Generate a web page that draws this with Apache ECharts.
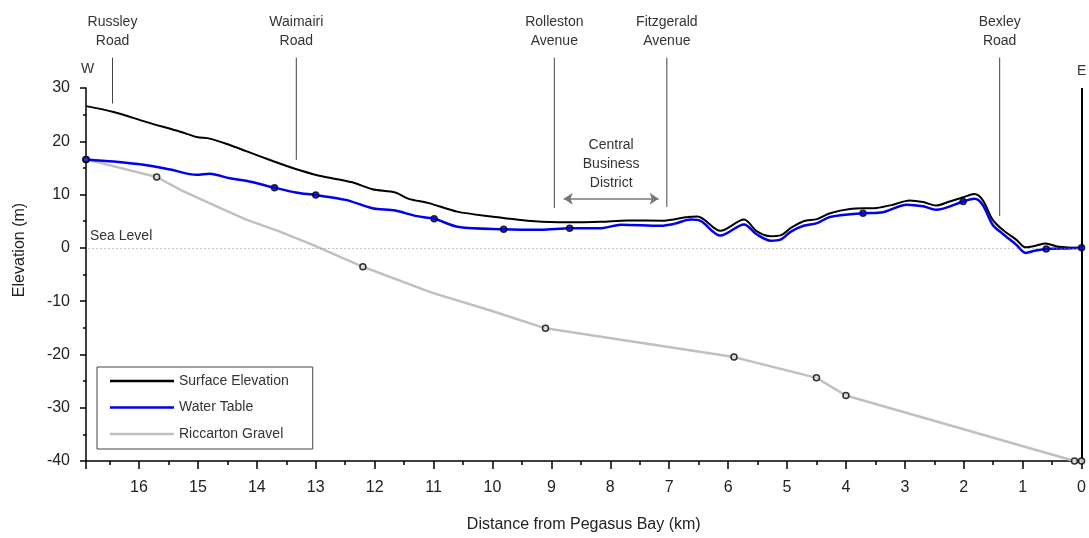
<!DOCTYPE html>
<html>
<head>
<meta charset="utf-8">
<script src="https://cdn.jsdelivr.net/npm/echarts@6/dist/echarts.min.js"></script>
<style>
  html, body { margin: 0; padding: 0; background: #fff; }
  #chart { width: 1089px; height: 538px; }
</style>
</head>
<body>
<div id="chart"></div>
<script>
// W-E cross section, distance from Pegasus Bay (km) vs elevation (m)
var surfaceKm = [16.9, 16.43, 15.87, 15.3, 15.02, 14.8, 14.46, 14.18, 13.73, 13.34, 12.94, 12.38, 12.04, 11.65, 11.42, 11.08, 10.6, 10.02, 9.28, 8.72, 8.16, 7.71, 7.09, 6.69, 6.52, 6.13, 5.73, 5.51, 5.28, 5.11, 4.94, 4.72, 4.49, 4.27, 3.93, 3.48, 3.2, 2.92, 2.69, 2.47, 2.24, 2.01, 1.82, 1.68, 1.51, 1.34, 1.11, 0.95, 0.78, 0.61, 0.39, 0];
var surfaceElev = [26.6, 25.5, 23.6, 21.8, 20.8, 20.5, 19.3, 18.15, 16.3, 14.8, 13.55, 12.3, 11.0, 10.4, 9.2, 8.4, 6.8, 5.9, 5.0, 4.8, 4.9, 5.15, 5.1, 5.8, 5.9, 3.2, 5.3, 3.1, 2.2, 2.35, 3.7, 5.0, 5.4, 6.5, 7.3, 7.5, 8.1, 8.9, 8.6, 7.95, 8.7, 9.5, 10.1, 9.0, 5.3, 3.4, 1.55, 0.1, 0.4, 0.8, 0.2, 0];

var waterKm = [16.9, 16.43, 15.87, 15.47, 15.02, 14.8, 14.46, 14.18, 13.7, 13.34, 13.0, 12.49, 12.04, 11.65, 11.31, 10.99, 10.57, 9.81, 9.17, 8.69, 8.15, 7.82, 7.14, 6.92, 6.63, 6.46, 6.13, 5.73, 5.51, 5.28, 5.11, 4.94, 4.72, 4.49, 4.27, 3.71, 3.37, 2.97, 2.69, 2.47, 2.01, 1.82, 1.68, 1.51, 1.34, 1.11, 0.95, 0.78, 0.61, 0.22, 0];
var waterElev = [16.6, 16.2, 15.5, 14.7, 13.7, 13.9, 13.05, 12.6, 11.3, 10.4, 9.9, 9.0, 7.45, 7.0, 6.0, 5.45, 3.9, 3.5, 3.4, 3.7, 3.7, 4.35, 4.15, 4.5, 5.3, 5.0, 2.3, 4.4, 2.5, 1.35, 1.55, 3.0, 4.15, 4.65, 5.8, 6.5, 6.7, 8.1, 7.8, 7.15, 8.7, 9.2, 8.1, 4.35, 2.65, 0.6, -0.95, -0.5, -0.2, -0.1, 0];

var gravelKm = [16.9, 15.7, 15.3, 14.75, 14.18, 13.62, 13.06, 12.5, 12.2, 11.03, 10.02, 9.1, 5.9, 4.5, 4.0, 0.12, 0];
var gravelElev = [16.6, 13.3, 10.9, 8.1, 5.3, 3.1, 0.6, -2.1, -3.55, -8.4, -11.8, -15.1, -20.5, -24.4, -27.7, -40, -40];

// bore points marked with small circles
var waterBoreKm = [16.9, 13.7, 13.0, 10.99, 9.81, 8.69, 3.71, 2.01, 0.6, 0];
var waterBoreElev = [16.6, 11.3, 9.9, 5.45, 3.5, 3.7, 6.5, 8.7, -0.2, 0];
var gravelBoreKm = [16.9, 15.7, 12.2, 9.1, 5.9, 4.5, 4.0, 0.12, 0];
var gravelBoreElev = [16.6, 13.3, -3.55, -15.1, -20.5, -24.4, -27.7, -40, -40];

// roads crossing the section (line drawn from roadTop down to roadBottom)
var roadNames = ['Russley\nRoad', 'Waimairi\nRoad', 'Rolleston\nAvenue', 'Fitzgerald\nAvenue', 'Bexley\nRoad'];
var roadKm = [16.45, 13.33, 8.95, 7.04, 1.39];
var roadTop = [35.7, 35.7, 35.7, 35.7, 35.7];
var roadBottom = [27.1, 16.5, 7.5, 7.7, 6.0];

var cbdFromKm = 8.79, cbdToKm = 7.18, cbdElev = 9.2;
var seriesNames = ['Surface Elevation', 'Water Table', 'Riccarton Gravel'];

function pairs(xs, ys) {
  var out = [];
  for (var i = 0; i < xs.length; i++) out.push([xs[i], ys[i]]);
  return out;
}

var font = 'Liberation Sans';
var roadData = [];
for (var i = 0; i < roadNames.length; i++) {
  roadData.push([roadKm[i], roadTop[i], roadBottom[i], i]);
}

var chart = echarts.init(document.getElementById('chart'));
var option = {
  animation: false,
  grid: { left: 86, right: 3, top: 88, bottom: 75 },
  legend: {
    data: seriesNames,
    orient: 'vertical',
    left: 97,
    top: 367,
    padding: [6, 24, 7, 13],
    itemGap: 10.5,
    itemWidth: 64,
    itemHeight: 2.5,
    icon: 'rect',
    borderColor: '#444',
    borderWidth: 1,
    backgroundColor: '#fff',
    textStyle: { fontFamily: font, fontSize: 14, lineHeight: 16, color: '#333' }
  },
  xAxis: {
    type: 'value',
    inverse: true,
    min: 0,
    max: 16.9,
    interval: 1,
    name: 'Distance from Pegasus Bay (km)',
    nameLocation: 'middle',
    nameGap: 56,
    nameTextStyle: { fontFamily: font, fontSize: 16, color: '#222' },
    axisLine: { onZero: false, lineStyle: { color: '#000', width: 1.5 } },
    axisTick: { length: 8, lineStyle: { color: '#000', width: 1.5 } },
    minorTick: { show: true, splitNumber: 2, length: 4, lineStyle: { color: '#000', width: 1.5 } },
    axisLabel: {
      margin: 19, fontFamily: font, fontSize: 16, color: '#222',
      formatter: function (v) { return Number.isInteger(v) ? String(v) : ''; }
    },
    splitLine: { show: false }
  },
  yAxis: {
    type: 'value',
    min: -40,
    max: 30,
    interval: 10,
    name: 'Elevation (m)',
    nameLocation: 'middle',
    nameGap: 58,
    nameTextStyle: { fontFamily: font, fontSize: 16, color: '#222', padding: [0, 0, 0, 49] },
    axisLine: { show: true, onZero: false, lineStyle: { color: '#000', width: 1.5 } },
    axisTick: { length: 6, lineStyle: { color: '#000', width: 1.5 } },
    minorTick: { show: true, splitNumber: 2, length: 3, lineStyle: { color: '#000', width: 1.5 } },
    axisLabel: { margin: 16, fontFamily: font, fontSize: 16, color: '#222' },
    splitLine: { show: false }
  },
  graphic: [
    { type: 'text', left: 81, top: 62, style: { text: 'W', font: '14px ' + font, fill: '#333' } },
    { type: 'text', left: 90, top: 229, style: { text: 'Sea Level', font: '14px ' + font, fill: '#333' } }
  ],
  series: [
    {
      name: seriesNames[2],
      type: 'line',
      symbol: 'none',
      data: pairs(gravelKm, gravelElev),
      lineStyle: { color: '#c0c0c0', width: 2.5 },
      itemStyle: { color: '#c0c0c0' },
      z: 2
    },
    {
      name: seriesNames[0],
      type: 'line',
      symbol: 'none',
      smooth: 0.3,
      data: pairs(surfaceKm, surfaceElev),
      lineStyle: { color: '#000', width: 2 },
      itemStyle: { color: '#000' },
      z: 3,
      markLine: {
        silent: true,
        symbol: 'none',
        symbolSize: 9,
        animation: false,
        label: {
          show: true, position: 'start', formatter: '{b}', distance: 7,
          fontFamily: font, fontSize: 14, lineHeight: 19, color: '#333'
        },
        data: [
          [
            { name: 'E', coord: [0, 30], lineStyle: { color: '#000', width: 2, type: 'solid' } },
            { coord: [0, -40] }
          ],
          [
            { name: 'Central\nBusiness\nDistrict', coord: [cbdFromKm, cbdElev], symbol: 'arrow',
              lineStyle: { color: '#777', width: 1.5, type: 'solid' },
              label: { position: 'middle', distance: 6 } },
            { coord: [cbdToKm, cbdElev], symbol: 'arrow' }
          ]
        ]
      }
    },
    {
      name: seriesNames[1],
      type: 'line',
      symbol: 'none',
      smooth: 0.3,
      data: pairs(waterKm, waterElev),
      lineStyle: { color: '#0000f0', width: 2.5 },
      itemStyle: { color: '#0000f0' },
      z: 3,
      markLine: {
        silent: true,
        symbol: 'none',
        animation: false,
        label: { show: false },
        lineStyle: { color: '#888', width: 1, type: [1, 3] },
        data: [{ yAxis: 0 }]
      }
    },
    {
      name: 'gravel bores',
      type: 'scatter',
      symbol: 'circle',
      symbolSize: 6,
      data: pairs(gravelBoreKm, gravelBoreElev),
      itemStyle: { color: '#ddd', borderColor: '#000', borderWidth: 1.5 },
      z: 5
    },
    {
      name: 'water bores',
      type: 'scatter',
      symbol: 'circle',
      symbolSize: 6,
      data: pairs(waterBoreKm, waterBoreElev),
      itemStyle: { color: '#0000f0', borderColor: '#000', borderWidth: 1.5 },
      z: 5
    },
    {
      name: 'roads',
      type: 'custom',
      clip: false,
      silent: true,
      data: roadData,
      renderItem: function (params, api) {
        var km = api.value(0);
        var top = api.coord([km, api.value(1)]);
        var bottom = api.coord([km, api.value(2)]);
        return {
          type: 'group',
          children: [
            {
              type: 'line',
              shape: { x1: top[0], y1: top[1], x2: bottom[0], y2: bottom[1] },
              style: { stroke: '#444', lineWidth: 1 }
            },
            {
              type: 'text',
              x: top[0],
              y: top[1] - 7,
              style: {
                text: roadNames[api.value(3)],
                align: 'center',
                verticalAlign: 'bottom',
                font: '14px ' + font,
                lineHeight: 19,
                fill: '#333'
              }
            }
          ]
        };
      },
      z: 4
    }
  ]
};
chart.setOption(option);
</script>
</body>
</html>
